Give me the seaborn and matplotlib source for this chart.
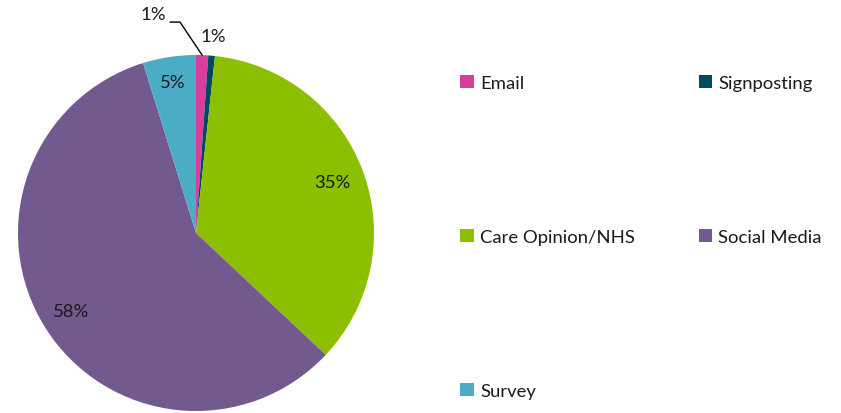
import numpy as np
import matplotlib
matplotlib.use("Agg")
import matplotlib.pyplot as plt
from matplotlib.patches import Patch
import seaborn as sns

# Share of feedback by source
categories = ["Email", "Signposting", "Care Opinion/NHS", "Social Media", "Survey"]
values = [1.1, 0.6, 35.3, 58.2, 4.8]
pct_labels = ["1%", "1%", "35%", "58%", "5%"]
colors = ["#D6409A", "#004A60", "#8CBF00", "#735A8E", "#4BACC6"]

# radial distance (in pie radii) for each percentage label
label_radius = [1.24, 1.11, 0.82, 0.83, 0.86]

sns.set_theme(style="white")
plt.rcParams["font.family"] = ["Lato", "DejaVu Sans"]

W, H = 841, 414
fig = plt.figure(figsize=(W / 100, H / 100), dpi=100)
cx, cy, R = 196, 234, 178
ax = fig.add_axes([(cx - R) / W, (H - cy - R) / H, 2 * R / W, 2 * R / H])

wedges, _ = ax.pie(values, colors=colors, startangle=90, counterclock=False,
                   radius=1, wedgeprops=dict(linewidth=0))
ax.set_xlim(-1, 1)
ax.set_ylim(-1, 1)
ax.axis("off")

total = sum(values)
cum = np.cumsum([0] + values[:-1])
for i, (v, c0, lab) in enumerate(zip(values, cum, pct_labels)):
    mid = np.deg2rad((c0 + v / 2) / total * 360)
    if i == 0:
        # Email label sits off to the left with a leader line
        tx, ty = -0.24, 1.23
        ex, ey = np.sin(mid), np.cos(mid)
        ax.plot([-0.146, -0.09, ex], [1.185, 1.185, ey], color="black",
                linewidth=1, clip_on=False)
    else:
        r = label_radius[i]
        tx, ty = r * np.sin(mid), r * np.cos(mid)
    ax.text(tx, ty, lab, ha="center", va="center", fontsize=13.3,
            color="#1a1a1a", clip_on=False)

# Legend laid out row-wise in two columns
handles = [Patch(facecolor=c, edgecolor="none") for c in colors]
order = [0, 2, 4, 1, 3]
leg = fig.legend([handles[i] for i in order], [categories[i] for i in order],
                 ncol=2, frameon=False, fontsize=13.3,
                 loc="upper left", bbox_to_anchor=(451 / W, 1 - 67 / H),
                 handlelength=0.72, handleheight=0.72, handletextpad=0.35,
                 labelspacing=7.45, columnspacing=3.45, borderpad=0)
for t in leg.get_texts():
    t.set_color("#1a1a1a")

fig.savefig("out.png", dpi=100, facecolor="white")
